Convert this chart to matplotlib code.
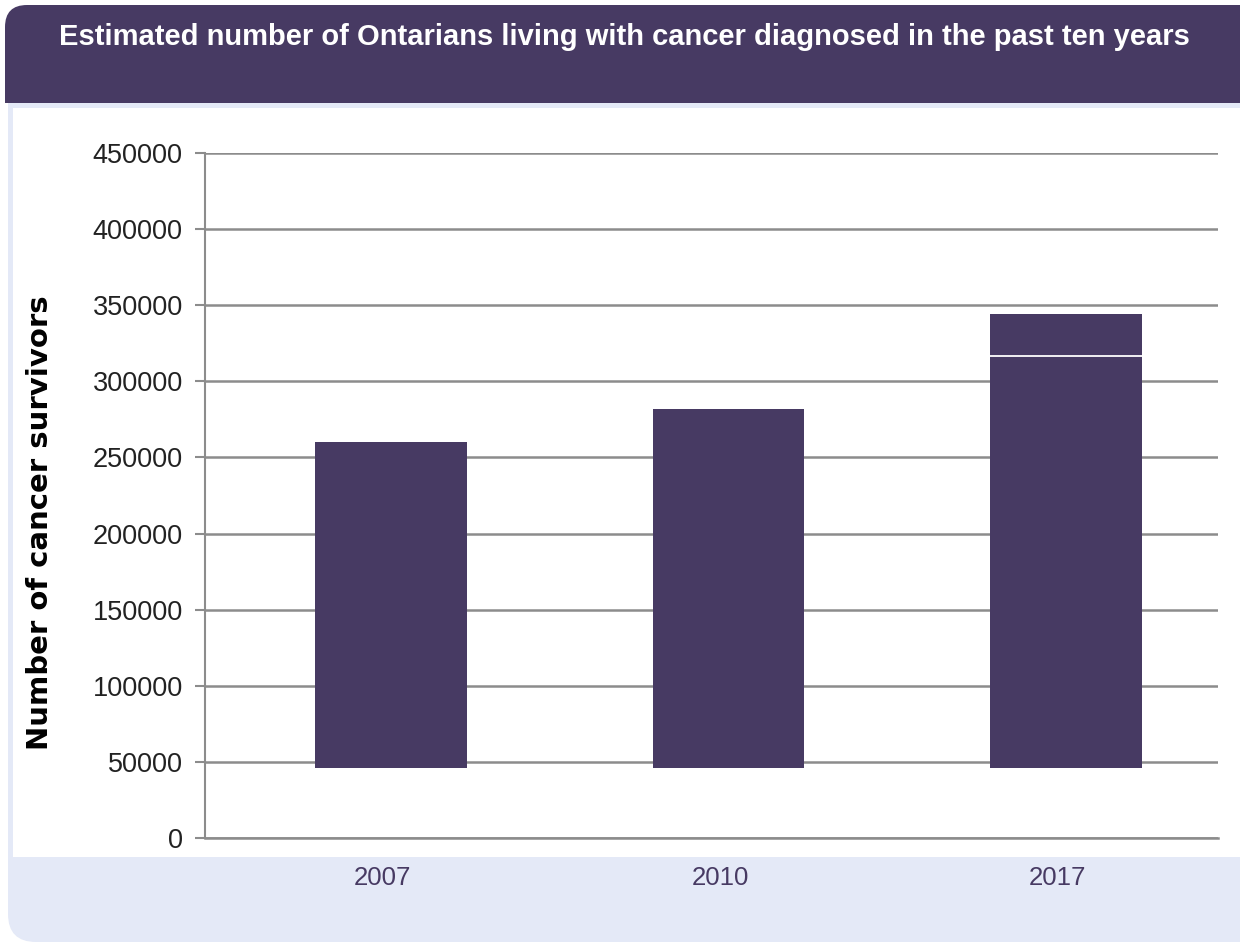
import matplotlib.pyplot as plt
from matplotlib.patches import FancyBboxPatch, Rectangle

# data
years = ['2007', '2010', '2017']
base = 46000
first_part = [260000, 281500, 316500]
second_part = [0, 0, 28000]   # top piece of the 2017 bar
yticks = [0, 50000, 100000, 150000, 200000, 250000, 300000, 350000, 400000, 450000]

W, H = 1240, 943
purple = '#473a63'
light = '#e4e9f7'

fig = plt.figure(figsize=(W / 100, H / 100), dpi=100)
fig.patch.set_facecolor('white')


def box(x0, y0, x1, y1, color, rad=0, z=0):
    # pixel coords (top-left origin) -> figure coords
    fx, fy = x0 / W, 1 - y1 / H
    fw, fh = (x1 - x0) / W, (y1 - y0) / H
    if rad:
        p = FancyBboxPatch((fx, fy), fw, fh, boxstyle='round,pad=0,rounding_size=%f' % (rad / W),
                           transform=fig.transFigure, facecolor=color, edgecolor='none', zorder=z,
                           mutation_aspect=W / H)
    else:
        p = Rectangle((fx, fy), fw, fh, transform=fig.transFigure, facecolor=color,
                      edgecolor='none', zorder=z)
    fig.patches.append(p)


box(8, 60, 1400, 942, light, rad=28, z=0)
box(5, 5, 1400, 300, purple, rad=22, z=1)
box(0, 103, 1240, 300, 'white', z=2)
box(8, 103, 1240, 300, light, z=2)
box(13, 108, 1240, 857, 'white', z=3)

fig.text(624 / W, 1 - 37 / H, 'Estimated number of Ontarians living with cancer diagnosed in the past ten years',
         color='white', fontsize=21, fontweight='bold', family=['Liberation Sans', 'DejaVu Sans'],
         ha='center', va='center', zorder=5)

ax = fig.add_axes([205 / W, 1 - 838 / H, (1218 - 205) / W, (838 - 153) / H], zorder=6)
ax.patch.set_alpha(0)

x = list(range(len(years)))
heights1 = [v - base for v in first_part]
ax.bar(x, heights1, bottom=base, width=0.45, color=purple, linewidth=0, zorder=3)
ax.bar(x, second_part, bottom=first_part, width=0.45, color=purple, linewidth=0, zorder=3)
ax.hlines(first_part[2], 2 - 0.225, 2 + 0.225, color='white', lw=1.3, zorder=4)

ax.set_xlim(-0.551, 2.45)
ax.set_ylim(0, 450000)
ax.set_yticks(yticks)
ax.set_yticklabels([str(t) for t in yticks], family=['Liberation Sans', 'DejaVu Sans'],
                   fontsize=19.5, color='#222222')
ax.yaxis.grid(True, color='#8c8c8c', lw=1.8, zorder=1)
ax.tick_params(axis='y', length=7, color='#8c8c8c', width=1.5, pad=9)

ax.set_xticks([i - 0.025 for i in x])
ax.set_xticklabels(years, fontsize=18.5, color=purple, family=['Liberation Sans', 'DejaVu Sans'])
ax.tick_params(axis='x', length=0, pad=20)

for s in ['top', 'right']:
    ax.spines[s].set_visible(False)
ax.spines['left'].set_color('#8c8c8c')
ax.spines['left'].set_linewidth(1.5)
ax.spines['bottom'].set_color('#8c8c8c')
ax.spines['bottom'].set_linewidth(1.8)

fig.text(40 / W, 1 - 523 / H, 'Number of cancer survivors', rotation=90, fontsize=21,
         fontweight='heavy', family='DejaVu Sans', ha='center', va='center', zorder=5)

fig.savefig('out.png', dpi=100)
